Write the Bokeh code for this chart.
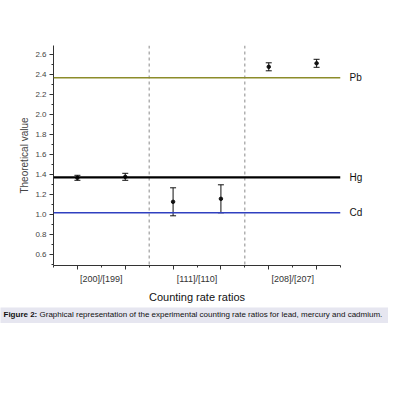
from bokeh.plotting import figure
from bokeh.models import (Span, Label, Whisker, ColumnDataSource, FixedTicker, LinearAxis,
                          TeeHead, Range1d, PrintfTickFormatter)
from bokeh.layouts import column, row
from bokeh.embed import file_html
from bokeh.resources import INLINE

# ---- data ----
positions = [1, 3, 5, 7, 9, 11]
ratio_values = [1.37, 1.38, 1.13, 1.16, 2.48, 2.515]
ratio_errors = [0.025, 0.035, 0.14, 0.14, 0.04, 0.04]

group_ticks = [2, 6, 10]
group_labels = ["[200]/[199]", "[111]/[110]", "[208]/[207]"]
separators = [4, 8]

element_names = ["Pb", "Hg", "Cd"]
element_values = [2.37, 1.375, 1.02]
element_colors = ["#8c8c2a", "#000000", "#3040c0"]
element_widths = [1.5, 2.2, 1.4]

y_ticks = [0.6, 0.8, 1.0, 1.2, 1.4, 1.6, 1.8, 2.0, 2.2, 2.4, 2.6]
y_minor = [0.5, 0.7, 0.9, 1.1, 1.3, 1.5, 1.7, 1.9, 2.1, 2.3, 2.5, 2.7]
x_major = [0, 2, 4, 6, 8, 10, 12]
x_minor = [1, 3, 5, 7, 9, 11]

caption_bold = "Figure 2:"
caption_text = "Graphical representation of the experimental counting rate ratios for lead, mercury and cadmium."

FONT = "Liberation Sans"

p = figure(width=394, height=307, output_backend="svg", toolbar_location=None,
           x_range=Range1d(0, 12), y_range=Range1d(0.493, 2.693),
           min_border_left=53, min_border_right=54, min_border_top=45, min_border_bottom=42)
p.outline_line_color = None
p.grid.visible = False
p.background_fill_color = "white"

# x axis
xa = p.xaxis[0]
xa.ticker = FixedTicker(ticks=x_major, minor_ticks=x_minor)
overrides = {t: "" for t in x_major}
for t, lab in zip(group_ticks, group_labels):
    overrides[t] = lab
xa.major_label_overrides = overrides
xa.major_tick_out = 2
xa.major_tick_in = 0
xa.minor_tick_out = 4
xa.minor_tick_in = 0
xa.major_label_standoff = 4
xa.major_label_text_font = FONT
xa.major_label_text_font_size = "9px"
xa.major_label_text_color = "#333333"
xa.axis_label = "Counting rate ratios"
xa.axis_label_text_font = FONT
xa.axis_label_text_font_size = "11px"
xa.axis_label_text_font_style = "normal"
xa.axis_label_text_color = "#111111"
xa.axis_label_standoff = 4
xa.axis_line_color = "#333333"
xa.major_tick_line_color = "#333333"
xa.minor_tick_line_color = "#333333"

# y axis
ya = p.yaxis[0]
ya.ticker = FixedTicker(ticks=y_ticks, minor_ticks=y_minor)
ya.formatter = PrintfTickFormatter(format="%.1f")
ya.major_tick_out = 4
ya.major_tick_in = 0
ya.minor_tick_out = 2
ya.minor_tick_in = 0
ya.major_label_standoff = 3
ya.major_label_text_font = FONT
ya.major_label_text_font_size = "8px"
ya.major_label_text_color = "#444444"
ya.axis_label = "Theoretical value"
ya.axis_label_text_font = FONT
ya.axis_label_text_font_size = "10px"
ya.axis_label_text_font_style = "normal"
ya.axis_label_text_color = "#444444"
ya.axis_label_standoff = 2
ya.axis_line_color = "#333333"
ya.major_tick_line_color = "#333333"
ya.minor_tick_line_color = "#333333"

# right-side element names via an unlined axis
ra = LinearAxis(ticker=FixedTicker(ticks=element_values, minor_ticks=[]),
                major_label_overrides={v: n for v, n in zip(element_values, element_names)},
                axis_line_color=None, major_tick_line_color=None, minor_tick_line_color=None,
                major_tick_out=0, major_tick_in=0, major_label_standoff=9,
                major_label_text_font=FONT, major_label_text_font_size="10px",
                major_label_text_color="#111111")
p.add_layout(ra, "right")

# separators
for s in separators:
    p.add_layout(Span(location=s, dimension="height", line_color="#8a8a8a",
                      line_dash="3 3", line_width=1))

# element reference lines
for val, col, w in zip(element_values, element_colors, element_widths):
    p.add_layout(Span(location=val, dimension="width", line_color=col, line_width=w))

# data points with error bars
src = ColumnDataSource(dict(
    x=positions, y=ratio_values,
    lo=[v - e for v, e in zip(ratio_values, ratio_errors)],
    hi=[v + e for v, e in zip(ratio_values, ratio_errors)],
))
wh = Whisker(source=src, base="x", lower="lo", upper="hi", line_color="#111111", line_width=1,
             upper_head=TeeHead(size=6, line_color="#111111", line_width=1),
             lower_head=TeeHead(size=6, line_color="#111111", line_width=1))
p.add_layout(wh)
p.scatter("x", "y", source=src, size=3.5, color="#111111")

# caption strip
cap = figure(width=388, height=16, output_backend="svg", toolbar_location=None,
             x_range=Range1d(0, 388), y_range=Range1d(16, 0),
             x_axis_location=None, y_axis_location=None,
             min_border=0, min_border_left=0, min_border_right=0,
             min_border_top=0, min_border_bottom=0)
cap.outline_line_color = None
cap.grid.visible = False
cap.background_fill_color = "#e6e6f0"
cap.border_fill_color = "#e6e6f0"
cap.add_layout(Label(x=3, y=6.8, text=caption_bold, text_baseline="middle",
                     text_font=FONT, text_font_size="8px", text_font_style="bold",
                     text_color="#111111"))
cap.add_layout(Label(x=39, y=6.8, text=caption_text, text_baseline="middle",
                     text_font=FONT, text_font_size="8px", text_color="#111111"))

layout = column(p, row(cap), spacing=0)
open("out.html", "w").write(file_html(layout, INLINE))
